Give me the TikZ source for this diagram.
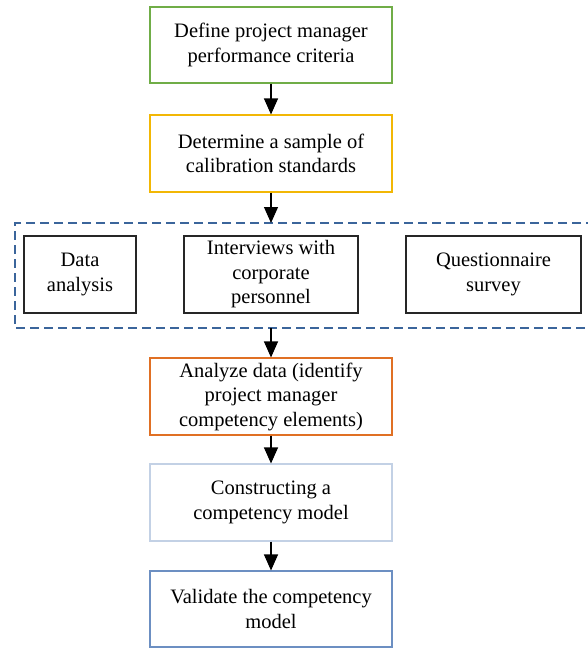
\documentclass[tikz,border=0pt]{standalone}
\usepackage{fontspec}
\setmainfont{Liberation Serif}
\usetikzlibrary{arrows.meta}
\definecolor{cgreen}{HTML}{70AD47}
\definecolor{cyellow}{HTML}{F2B705}
\definecolor{corange}{HTML}{E07024}
\definecolor{cpale}{HTML}{C3D1E5}
\definecolor{csteel}{HTML}{6C8FC2}
\definecolor{cdash}{HTML}{3B659B}
\begin{document}
\begin{tikzpicture}[x=1pt,y=-1pt,
  box/.style={draw, line width=1.1pt, align=center, inner sep=0pt,
    font=\fontsize{20.5}{24.5}\selectfont},
  arr/.style={-{Triangle[length=16pt,width=14pt]}, line width=1.1pt}]
\useasboundingbox (0,0) rectangle (587,648);
\node[box, draw=cgreen, minimum width=242pt, minimum height=76pt] (a) at (271,45) {Define project manager\\performance criteria};
\node[box, draw=cyellow, minimum width=242pt, minimum height=77pt] (b) at (271,153.5) {Determine a sample of\\calibration standards};
\coordinate (dtop) at (271,223);
\coordinate (dbot) at (271,328);
\draw[cdash, line width=1.1pt, dash pattern=on 9pt off 5pt] (595,223) -- (15,223) -- (15,328) -- (595,328);
\node[box, draw=black!85, minimum width=112pt, minimum height=77pt] (c1) at (80,274.5) {Data\\analysis};
\node[box, draw=black!85, minimum width=174pt, minimum height=77pt] (c2) at (271,274.5) {Interviews with\\corporate\\personnel};
\node[box, draw=black!85, minimum width=175pt, minimum height=77pt] (c3) at (493.5,274.5) {Questionnaire\\survey};
\node[box, draw=corange, minimum width=242pt, minimum height=77pt] (d) at (271,396.5) {Analyze data (identify\\project manager\\competency elements)};
\node[box, draw=cpale, minimum width=242pt, minimum height=77pt] (e) at (271,502.5) {Constructing a\\competency model};
\node[box, draw=csteel, minimum width=242pt, minimum height=76pt] (f) at (271,609) {Validate the competency\\model};
\draw[arr] (a) -- (b);
\draw[arr] (b) -- (dtop);
\draw[arr] (dbot) -- (d);
\draw[arr] (d) -- (e);
\draw[arr] (e) -- (f);
\end{tikzpicture}
\end{document}
